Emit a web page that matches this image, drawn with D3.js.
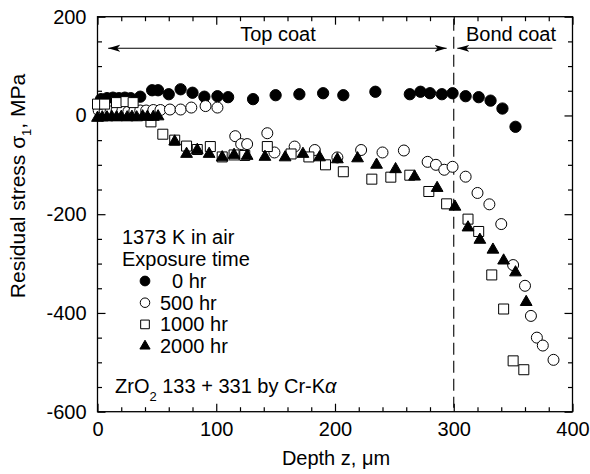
<!DOCTYPE html>
<head>
<meta charset="utf-8">
<script src="https://d3js.org/d3.v7.min.js"></script>
<style>
  body { margin:0; background:#fff; }
  text { font-family: "Liberation Sans", Arial, sans-serif; fill:#000; }
</style>
</head>
<body>
<script>
// depth z (um) and residual stress (MPa) for each exposure time
var depth0 = [3, 8, 13, 18, 23, 28, 36, 46, 51, 60, 70, 80, 90, 101, 110, 131, 150, 170, 190, 207, 234, 263, 272, 280, 290, 299, 310, 321, 331, 341, 352];
var stress0 = [33, 35, 36, 35, 36, 35, 38, 51, 51, 43, 53, 46, 38, 39, 37, 33, 41, 43, 45, 41, 48, 43, 48, 45, 43, 45, 39, 37, 30, 14, -23];

var depth500 = [1, 6, 11, 16, 21, 26, 31, 36, 41, 47, 53, 61, 70, 79, 91, 101, 116, 121, 126, 143, 149, 166, 183, 202, 222, 240, 258, 278, 285, 292, 299, 310, 320, 330, 340, 350, 360, 365, 370, 375, 384];
var stress500 = [10, 9, 8, 9, 10, 8, 9, 10, 10, 11, 11, 12, 12, 16, 19, 16, -42, -58, -58, -36, -75, -63, -70, -85, -70, -75, -71, -94, -100, -110, -104, -124, -157, -180, -220, -303, -345, -406, -450, -466, -495];

var depth1000 = [0, 6, 16, 24, 30, 45, 55, 65, 75, 84, 95, 105, 115, 124, 143, 163, 178, 192, 207, 231, 247, 263, 279, 294, 312, 321, 332, 342, 350, 359];
var stress1000 = [23, 23, 26, 28, 26, -13, -38, -50, -62, -69, -63, -84, -80, -81, -63, -78, -84, -100, -114, -129, -125, -121, -154, -179, -210, -235, -323, -392, -497, -515];

var depth2000 = [0, 4, 8, 12, 16, 20, 25, 29, 33, 38, 42, 47, 51, 65, 75, 84, 94, 105, 115, 126, 141, 158, 173, 187, 202, 219, 235, 251, 267, 286, 301, 312, 322, 333, 342, 352, 361];
var stress2000 = [-5, -4, -4, -3, -4, -3, -4, -3, -4, -2, -3, -3, -2, -53, -78, -70, -78, -85, -80, -82, -84, -85, -78, -85, -89, -87, -100, -109, -124, -147, -185, -227, -252, -272, -294, -318, -378];

var legendLabels = ["0 hr", "500 hr", "1000 hr", "2000 hr"];
var xTicks = [0, 100, 200, 300, 400];
var yTicks = [-600, -400, -200, 0, 200];

var width = 590, height = 474;
var svg = d3.select("body").append("svg").attr("width", width).attr("height", height);

var x = d3.scaleLinear().domain([0, 400]).range([97.5, 572.5]);
var y = d3.scaleLinear().domain([-600, 200]).range([411.7, 16.7]);

var xMinor = d3.range(0, 401, 20).filter(function(v){ return v % 100; });
var yMinor = d3.range(-600, 201, 50).filter(function(v){ return v % 200; });

// ticks point inward on all four sides
function axis(gen, scale, vals, size, pos, labels, pad) {
  var a = gen(scale).tickValues(vals).tickSizeInner(-size).tickSizeOuter(0)
    .tickPadding(pad || 3)
    .tickFormat(labels ? function(d){ return String(d); } : "");
  var g = svg.append("g").attr("transform", pos).call(a);
  g.select(".domain").remove();
  g.attr("font-size", 20).attr("font-family", null);
  g.selectAll("line").attr("stroke", "#000").attr("stroke-width", 1.2);
  return g;
}
var bottom = "translate(0," + y(-600) + ")", top_ = "translate(0," + y(200) + ")";
var left = "translate(" + x(0) + ",0)", right = "translate(" + x(400) + ",0)";

axis(d3.axisBottom, x, xTicks, 8, bottom, true, 10);
axis(d3.axisBottom, x, xMinor, 4.5, bottom, false);
axis(d3.axisTop, x, xTicks, 8, top_, false);
axis(d3.axisTop, x, xMinor, 4.5, top_, false);
axis(d3.axisLeft, y, yTicks, 8, left, true, 11);
axis(d3.axisLeft, y, yMinor, 4.5, left, false);
axis(d3.axisRight, y, yTicks, 8, right, false);
axis(d3.axisRight, y, yMinor, 4.5, right, false);

svg.append("rect")
  .attr("x", x(0)).attr("y", y(200))
  .attr("width", x(400) - x(0)).attr("height", y(-600) - y(200))
  .attr("fill", "none").attr("stroke", "#000").attr("stroke-width", 1.3);

// top coat / bond coat boundary
svg.append("line")
  .attr("x1", x(300)).attr("x2", x(300))
  .attr("y1", y(200) + 2).attr("y2", y(-600) - 4)
  .attr("stroke", "#000").attr("stroke-width", 1.1)
  .attr("stroke-dasharray", "12,6");

svg.append("defs").append("marker")
  .attr("id", "head").attr("viewBox", "0 0 12 8")
  .attr("refX", 12).attr("refY", 4)
  .attr("markerWidth", 12).attr("markerHeight", 8)
  .attr("markerUnits", "userSpaceOnUse")
  .attr("orient", "auto-start-reverse")
  .append("path").attr("d", "M0,0.5 L12,4 L0,7.5 L3,4 Z").attr("fill", "#000");

svg.append("line")
  .attr("x1", x(9)).attr("x2", x(294)).attr("y1", y(136)).attr("y2", y(136))
  .attr("stroke", "#000").attr("stroke-width", 1.1)
  .attr("marker-start", "url(#head)").attr("marker-end", "url(#head)");
svg.append("line")
  .attr("x1", x(383)).attr("x2", x(303)).attr("y1", y(136)).attr("y2", y(136))
  .attr("stroke", "#000").attr("stroke-width", 1.1)
  .attr("marker-end", "url(#head)");

svg.append("text").attr("x", 278).attr("y", 41).attr("text-anchor", "middle")
  .style("font-size", "20px").text("Top coat");
svg.append("text").attr("x", 511).attr("y", 41).attr("text-anchor", "middle")
  .style("font-size", "20px").text("Bond coat");

// series
var series = [
  { xs: depth0, ys: stress0, type: d3.symbolCircle, size: 100, fill: "#000" },
  { xs: depth500, ys: stress500, type: d3.symbolCircle, size: 95, fill: "#fff" },
  { xs: depth1000, ys: stress1000, type: d3.symbolSquare, size: 100, fill: "#fff" },
  { xs: depth2000, ys: stress2000, type: d3.symbolTriangle, size: 60, fill: "#000" }
];

series.forEach(function(s) {
  var pts = s.xs.map(function(d, i){ return [d, s.ys[i]]; });
  svg.append("g").selectAll("path").data(pts).enter().append("path")
    .attr("d", d3.symbol().type(s.type).size(s.size))
    .attr("transform", function(d){ return "translate(" + x(d[0]) + "," + y(d[1]) + ")"; })
    .attr("fill", s.fill).attr("stroke", "#000").attr("stroke-width", 1);
});

// legend
svg.append("text").attr("x", 122).attr("y", 244).style("font-size", "20px").text("1373 K in air");
svg.append("text").attr("x", 122).attr("y", 266).style("font-size", "20px").text("Exposure time");
legendLabels.forEach(function(lab, i) {
  var yy = 288 + i * 21.7;
  var s = series[i];
  svg.append("path")
    .attr("d", d3.symbol().type(s.type).size(s.size * 0.75))
    .attr("transform", "translate(145," + (yy - 7) + ")")
    .attr("fill", s.fill).attr("stroke", "#000").attr("stroke-width", 1);
  svg.append("text").attr("x", i === 0 ? 172 : 160).attr("y", yy)
    .style("font-size", "20px").text(lab);
});

var zr = svg.append("text").attr("x", 115).attr("y", 393).style("font-size", "20px");
zr.append("tspan").text("ZrO");
zr.append("tspan").attr("dy", 8).style("font-size", "13px").text("2");
zr.append("tspan").attr("dy", -8).text(" 133 + 331 by Cr-K");
zr.append("tspan").style("font-style", "italic").text("\u03b1");

// axis titles
svg.append("text").attr("x", 336).attr("y", 465).attr("text-anchor", "middle")
  .style("font-size", "20px").text("Depth z, \u03bcm");

var yl = svg.append("text").attr("transform", "translate(25,186) rotate(-90)")
  .attr("text-anchor", "middle").style("font-size", "21px");
yl.append("tspan").text("Residual stress \u03c3");
yl.append("tspan").attr("dy", 6).style("font-size", "13px").text("1");
yl.append("tspan").attr("dy", -6).text(", MPa");
</script>
</body>
